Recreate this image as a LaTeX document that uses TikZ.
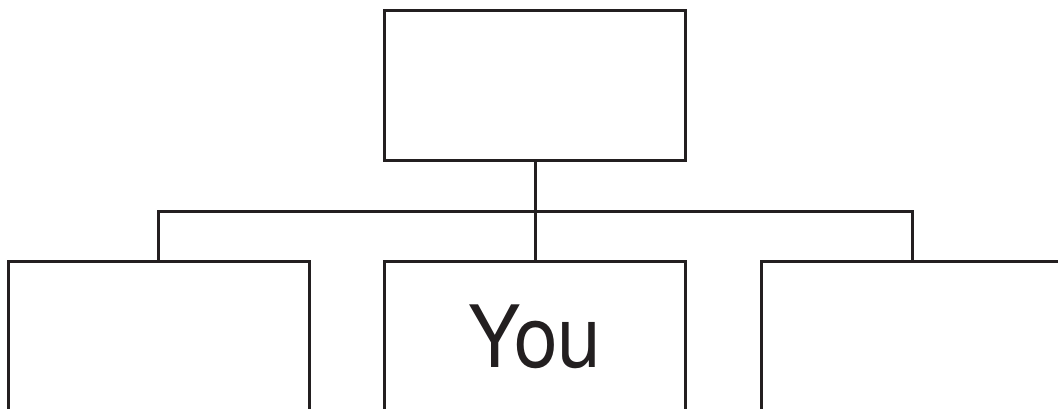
\documentclass[tikz,border=0pt]{standalone}
\usepackage{fontspec}
\setmainfont{TeX Gyre Heros}
\definecolor{ink}{HTML}{231F20}
\begin{document}
\begin{tikzpicture}[x=1pt,y=-1pt,
  box/.style={draw=ink,line width=3pt,minimum width=301pt,minimum height=150pt,inner sep=0pt,outer sep=0pt},
  link/.style={draw=ink,line width=3pt}]
\useasboundingbox (0,0) rectangle (1058,409);
\clip (0,0) rectangle (1058,409);
\node[box] (top) at (535,86) {};
\node[box] (left) at (158.5,336) {};
\node[box] (mid) at (535,336) {};
\node[box] (right) at (912,336) {};
\node[text=ink,font=\fontsize{86}{90}\selectfont,anchor=base] (you) at (535,367) {\scalebox{0.91}[1]{You}};
\coordinate (bus) at (535,211.5);
\draw[link] (top.south) -- (mid.north);
\draw[link] (left.north) |- (bus) -| (right.north);
\end{tikzpicture}
\end{document}
